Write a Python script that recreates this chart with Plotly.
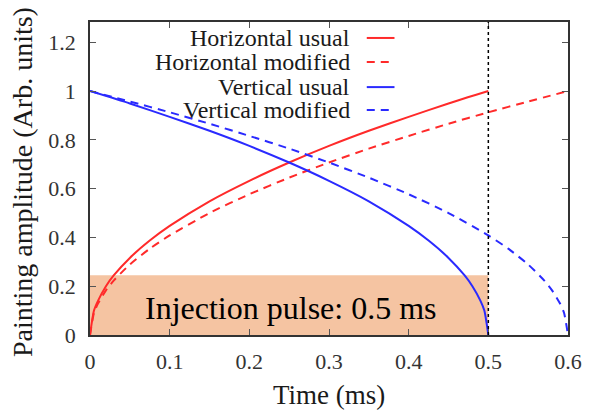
import plotly.graph_objects as go

# ---- data ----
t_usual = [0, 0.005, 0.01, 0.02, 0.03, 0.05, 0.075, 0.1, 0.15, 0.2, 0.25, 0.3, 0.35, 0.4, 0.45, 0.5]
h_usual = [0, 0.10, 0.14, 0.20, 0.245, 0.316, 0.387, 0.447, 0.548, 0.632, 0.707, 0.775, 0.837, 0.894, 0.949, 1.0]

t_vusual = [0, 0.05, 0.1, 0.15, 0.2, 0.25, 0.3, 0.35, 0.4, 0.425, 0.45, 0.47, 0.48, 0.49, 0.495, 0.5]
v_usual = [1.0, 0.949, 0.894, 0.837, 0.775, 0.707, 0.632, 0.548, 0.447, 0.387, 0.316, 0.245, 0.20, 0.141, 0.10, 0]

t_mod = [0, 0.005, 0.01, 0.02, 0.03, 0.05, 0.075, 0.1, 0.15, 0.2, 0.25, 0.3, 0.35, 0.4, 0.45, 0.5, 0.55, 0.6]
h_mod = [0, 0.091, 0.129, 0.183, 0.224, 0.289, 0.354, 0.408, 0.50, 0.577, 0.645, 0.707, 0.764, 0.816, 0.866, 0.913, 0.957, 1.0]

t_vmod = [0, 0.05, 0.1, 0.15, 0.2, 0.25, 0.3, 0.35, 0.4, 0.45, 0.5, 0.525, 0.55, 0.57, 0.58, 0.59, 0.595, 0.6]
v_mod = [1.0, 0.957, 0.913, 0.866, 0.816, 0.764, 0.707, 0.645, 0.577, 0.50, 0.408, 0.354, 0.289, 0.224, 0.183, 0.129, 0.091, 0]

series_names = ["Horizontal usual", "Horizontal modified", "Vertical usual", "Vertical modified"]
pulse_end = 0.5
pulse_band_top = 0.245
pulse_label = "Injection pulse: 0.5 ms"
x_title = "Time (ms)"
y_title = "Painting amplitude (Arb. units)"

x_ticks = [0, 0.1, 0.2, 0.3, 0.4, 0.5, 0.6]
x_ticktext = ["0", "0.1", "0.2", "0.3", "0.4", "0.5", "0.6"]
y_ticks = [0, 0.2, 0.4, 0.6, 0.8, 1.0, 1.2]
y_ticktext = ["0", "0.2", "0.4", "0.6", "0.8", "1", "1.2"]

RED = "#ff2a2a"
BLUE = "#2a2aff"
FONT = "Liberation Serif"
TXT = "#1a1a1a"

fig = go.Figure()
styles = [
    (t_usual, h_usual, RED, "solid"),
    (t_mod, h_mod, RED, "8px,6px"),
    (t_vusual, v_usual, BLUE, "solid"),
    (t_vmod, v_mod, BLUE, "8px,6px"),
]
for (x, y, c, d), name in zip(styles, series_names):
    fig.add_trace(go.Scatter(x=x, y=y, mode="lines", name=name, showlegend=False,
                             line=dict(color=c, width=2, dash=d, shape="spline", smoothing=0.6)))

shapes = [
    dict(type="rect", xref="x", yref="y", x0=0, x1=pulse_end, y0=0, y1=pulse_band_top,
         fillcolor="#f5c4a2", line=dict(width=0), layer="below"),
    dict(type="line", xref="x", yref="paper", x0=pulse_end, x1=pulse_end, y0=0, y1=1,
         line=dict(color="black", width=1.5, dash="dot")),
]

# gnuplot-style legend: right-aligned text, sample to the right
leg_y = [0.949, 0.872, 0.792, 0.719]
annotations = []
for (x, y, c, d), name, ly in zip(styles, series_names, leg_y):
    annotations.append(dict(xref="paper", yref="paper", x=0.548, y=ly, text=name,
                            showarrow=False, xanchor="right", yanchor="middle",
                            font=dict(family=FONT, size=24, color=TXT)))
    shapes.append(dict(type="line", xref="paper", yref="paper", x0=0.579, x1=0.637,
                       y0=ly, y1=ly, line=dict(color=c, width=2, dash=d)))

annotations.append(dict(xref="x", yref="y", x=0.252, y=0.11, text=pulse_label,
                        showarrow=False, xanchor="center", yanchor="middle",
                        font=dict(family=FONT, size=32, color="black")))

# axis titles
annotations.append(dict(xref="paper", yref="paper", x=0.5, y=-0.192, text=x_title,
                        showarrow=False, xanchor="center", yanchor="middle",
                        font=dict(family=FONT, size=27, color=TXT)))
annotations.append(dict(xref="paper", yref="paper", x=-0.140, y=0.489, text=y_title,
                        showarrow=False, xanchor="center", yanchor="middle", textangle=-90,
                        font=dict(family=FONT, size=28, color=TXT)))

axis_common = dict(showline=True, linecolor="#333", linewidth=1.5, mirror="ticks",
                   ticks="inside", ticklen=6, tickcolor="#555", tickwidth=1,
                   showgrid=False, zeroline=False,
                   tickfont=dict(family=FONT, size=22, color="#333"))

# the page body adds an 8px offset, so the figure is sized to keep the plot frame in place
fig.update_layout(
    width=586, height=402,
    margin=dict(l=82, r=19, t=14, b=75),
    paper_bgcolor="white", plot_bgcolor="white",
    shapes=shapes, annotations=annotations,
    xaxis=dict(range=[0, 0.6], tickvals=x_ticks, ticktext=x_ticktext,
               ticklabelstandoff=6, **axis_common),
    yaxis=dict(range=[0, 1.283], tickvals=y_ticks, ticktext=y_ticktext,
               ticklabelstandoff=8, **axis_common),
)

fig.write_html("out.html", config={"displayModeBar": False})
